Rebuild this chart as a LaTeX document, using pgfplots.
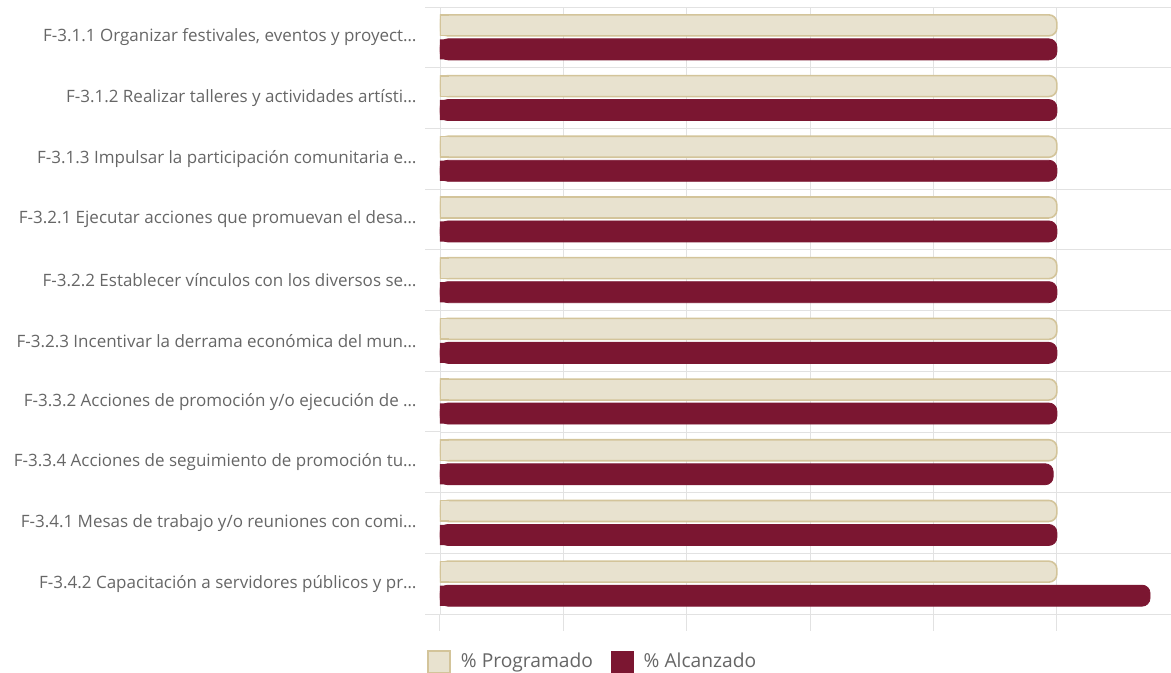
\documentclass[border=0pt]{standalone}
\usepackage{pgfplots}
\pgfplotsset{compat=1.18}
\usepackage{fontspec}
\setmainfont{Open Sans}
\usetikzlibrary{calc}
\definecolor{progfill}{HTML}{E8E2CF}
\definecolor{progline}{HTML}{D3C49A}
\definecolor{alc}{HTML}{7B1631}
\definecolor{gridc}{HTML}{E2E2E2}
\definecolor{labc}{HTML}{666666}
\begin{document}
\begin{tikzpicture}
\begin{axis}[
  name=ax,
  width=365.5pt, height=303.5pt, scale only axis,
  xbar,
  bar width=10.5pt,
  xmin=0, xmax=118.5,
  ymin=-0.5, ymax=9.5,
  y dir=reverse,
  axis line style={draw=none},
  tick align=outside,
  tick pos=left,
  major tick length=8.5pt,
  minor tick length=7.5pt,
  xtick={0,20,...,100},
  xticklabels={},
  xmajorgrids,
  major grid style={gridc},
  minor grid style={gridc},
  x tick style={gridc, line width=0.5pt},
  ytick={0,...,9},
  ytick style={draw=none},
  minor ytick={-0.5,0.5,...,9.5},
  yminorgrids,
  minor y tick style={gridc, draw=gridc, line width=0.5pt},
  yticklabels={
    {F-3.1.1 Organizar festivales, eventos y proyect…},
    {F-3.1.2 Realizar talleres y actividades artísti…},
    {F-3.1.3 Impulsar la participación comunitaria e…},
    {F-3.2.1 Ejecutar acciones que promuevan el desa…},
    {F-3.2.2 Establecer vínculos con los diversos se…},
    {F-3.2.3 Incentivar la derrama económica del mun…},
    {F-3.3.2 Acciones de promoción y/o ejecución de …},
    {F-3.3.4 Acciones de seguimiento de promoción tu…},
    {F-3.4.1 Mesas de trabajo y/o reuniones con comi…},
    {F-3.4.2 Capacitación a servidores públicos y pr…}},
  yticklabel style={font=\fontsize{8.5}{9}\selectfont, text=labc, xshift=0.3pt},
  legend style={at={(axis description cs:0,0)}, anchor=north west,
    xshift=-6.5pt, yshift=-17.5pt, draw=none, inner sep=0pt,
    font=\fontsize{9.6}{10}\selectfont, text=labc,
    legend columns=2,
    /tikz/every odd column/.append style={column sep=3pt},
    /tikz/every even column/.append style={column sep=7pt}},
  legend image code/.code={\draw[#1, sharp corners] (0pt,-5.5pt) rectangle (11pt,5.5pt);},
]
\addplot[fill=progfill, draw=progline, line width=0.8pt, rounded corners=4pt, bar shift=6pt]
  coordinates {(100,0) (100,1) (100,2) (100,3) (100,4) (100,5) (100,6) (100,7) (100,8) (100,9)};
\addplot[fill=alc, draw=alc, line width=0.4pt, rounded corners=4pt, bar shift=-6pt]
  coordinates {(100,0) (100,1) (100,2) (100,3) (100,4) (100,5) (100,6) (99.4,7) (100,8) (115.1,9)};
% square left ends: sharp copies, seen only near the axis
\begin{scope}
\clip (axis cs:0,-0.5) rectangle (axis cs:1.45,9.5);
\addplot[forget plot, fill=progfill, draw=progline, line width=0.8pt, bar shift=6pt, bar width=10.3pt]
  coordinates {(100,0) (100,1) (100,2) (100,3) (100,4) (100,5) (100,6) (100,7) (100,8) (100,9)};
\addplot[forget plot, fill=alc, draw=none, bar shift=-6pt, bar width=10.1pt]
  coordinates {(100,0) (100,1) (100,2) (100,3) (100,4) (100,5) (100,6) (99.4,7) (100,8) (115.1,9)};
\end{scope}
\legend{\% Programado, \% Alcanzado}
\end{axis}
\pgfresetboundingbox
\path[use as bounding box] ($(ax.south west)+(-220pt,-29.5pt)$) rectangle ($(ax.north east)+(0pt,3.5pt)$);
\end{tikzpicture}
\end{document}
